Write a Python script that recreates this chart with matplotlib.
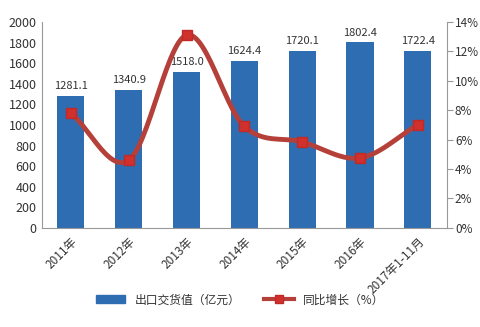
import matplotlib
matplotlib.use("Agg")
import matplotlib.pyplot as plt
import numpy as np
from matplotlib.lines import Line2D
from matplotlib.patches import Patch

plt.rcParams['font.family'] = ['Noto Sans CJK SC', 'DejaVu Sans']

categories = ["2011年", "2012年", "2013年", "2014年", "2015年", "2016年", "2017年1-11月"]
export_value = [1281.1, 1340.9, 1518.0, 1624.4, 1720.1, 1802.4, 1722.4]
growth_pct = [7.8, 4.6, 13.1, 6.9, 5.85, 4.75, 7.0]
left_ticks = [0, 200, 400, 600, 800, 1000, 1200, 1400, 1600, 1800, 2000]
right_ticks = [0, 2, 4, 6, 8, 10, 12, 14]

fig = plt.figure(figsize=(4.8, 3.27), dpi=100)
ax = fig.add_axes([0.0875, 0.303, 0.843, 0.630])
x = np.arange(len(categories))
bar_color = "#2f6db3"
ax.bar(x, export_value, width=0.47, color=bar_color, zorder=2)
for xi, v in zip(x, export_value):
    ax.text(xi, v + 45, f"{v:.1f}", ha="center", va="bottom", fontsize=8, color="#333333")
ax.set_ylim(0, 2000)
ax.set_xlim(-0.5, len(categories) - 0.5)
ax.set_yticks(left_ticks)
ax.tick_params(axis='y', length=0, labelsize=9, colors="#333333", pad=4)
ax.set_xticks(x)
ax.set_xticklabels(categories, rotation=45, ha="right", rotation_mode="anchor", fontsize=8.5, color="#333333")
ax.tick_params(axis='x', length=0, pad=5)
for s in ["top", "right"]:
    ax.spines[s].set_visible(False)
ax.spines["left"].set_color("#999999")
ax.spines["bottom"].set_color("#999999")

ax2 = ax.twinx()
ax2.set_ylim(0, 14)
ax2.set_yticks(right_ticks)
ax2.set_yticklabels([f"{t}%" for t in right_ticks])
ax2.tick_params(axis='y', length=4, labelsize=8.5, direction="out", pad=2,
                colors="#999999", labelcolor="#333333")
for s in ["top", "left", "bottom"]:
    ax2.spines[s].set_visible(False)
ax2.spines["right"].set_color("#999999")

# smooth curve (Catmull-Rom through the data points)
pts = np.column_stack([x, growth_pct]).astype(float)
ext = np.vstack([pts[0] - (pts[1] - pts[0]), pts, pts[-1] + (pts[-1] - pts[-2])])
cx, cy = [], []
for i in range(1, len(ext) - 2):
    p0, p1, p2, p3 = ext[i - 1], ext[i], ext[i + 1], ext[i + 2]
    t = np.linspace(0, 1, 30)[:, None]
    c = 0.5 * ((2 * p1) + (-p0 + p2) * t + (2 * p0 - 5 * p1 + 4 * p2 - p3) * t**2 + (-p0 + 3 * p1 - 3 * p2 + p3) * t**3)
    cx.extend(c[:, 0]); cy.extend(c[:, 1])
ax2.plot(cx, cy, color="#b5403a", lw=3.5, zorder=3, solid_capstyle="round")
ax2.plot(x, growth_pct, ls="none", marker="s", ms=7, color="#d0312d", mec="#c02a26", zorder=4)

handles = [Patch(color=bar_color),
           Line2D([0], [0], color="#b5403a", lw=3, marker="s", ms=6, mfc="#d0312d", mec="#c02a26")]
fig.legend(handles, ["出口交货值（亿元）", "同比增长（%）"], loc="center", bbox_to_anchor=(0.5, 0.083),
           ncol=2, frameon=False, fontsize=8.5, handlelength=2.5, columnspacing=2.0,
           labelcolor="#333333")

fig.savefig("out.png", dpi=100)
